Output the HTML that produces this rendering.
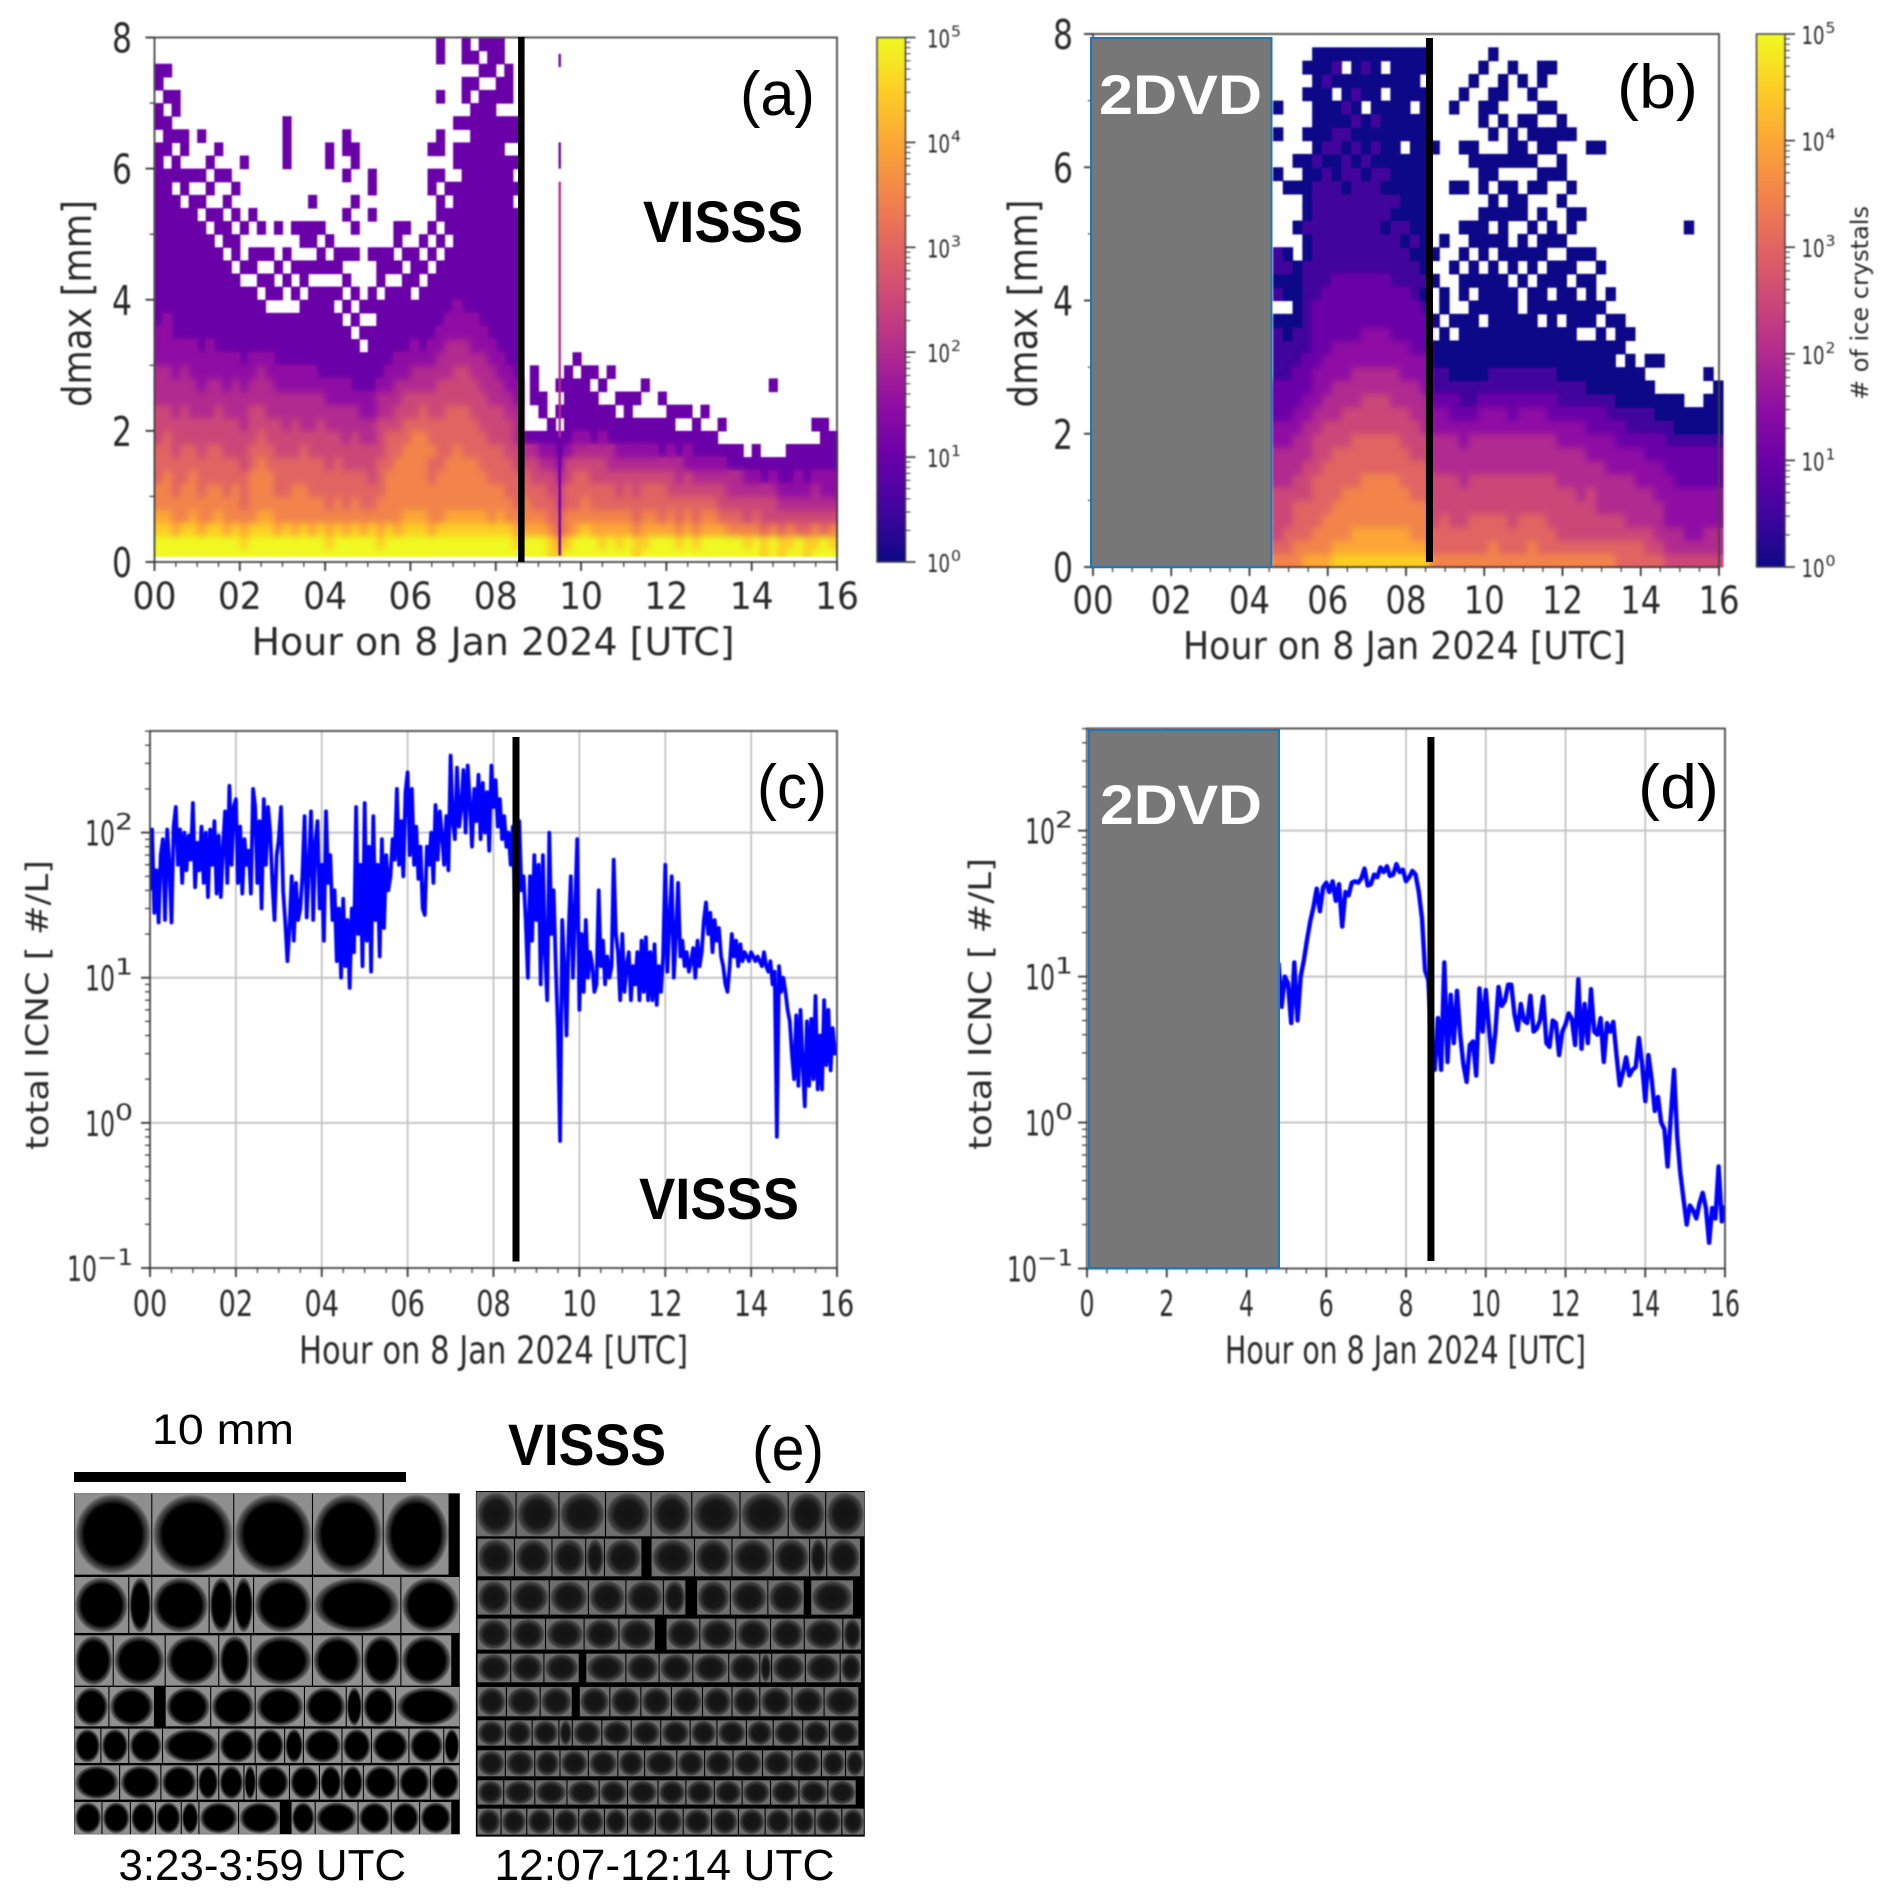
<!DOCTYPE html>
<html lang="en">
<head>
<meta charset="utf-8">
<title>VISSS and 2DVD comparison, 8 Jan 2024</title>
<style>
html,body{margin:0;padding:0;background:#fff;}
svg{display:block;position:absolute;left:0;top:0;}
.soft{filter:blur(0.7px);}
.axis-text{font-family:"DejaVu Sans","Liberation Sans",sans-serif;fill:#2a2a2a;}
.note{font-family:"Liberation Sans",sans-serif;}
</style>
</head>
<body>
<svg id="fig" xmlns="http://www.w3.org/2000/svg" width="1892" height="1901" viewBox="0 0 1892 1901">
<defs>
<linearGradient id="plasma-gradient" x1="0" y1="1" x2="0" y2="0">
<stop offset="0" stop-color="#0d0887"/><stop offset="0.1" stop-color="#41049d"/><stop offset="0.2" stop-color="#6a00a8"/><stop offset="0.3" stop-color="#8f0da4"/><stop offset="0.4" stop-color="#b12a90"/><stop offset="0.5" stop-color="#cc4778"/><stop offset="0.6" stop-color="#e16462"/><stop offset="0.7" stop-color="#f2844b"/><stop offset="0.8" stop-color="#fca636"/><stop offset="0.9" stop-color="#fcce25"/><stop offset="1" stop-color="#f0f921"/>
</linearGradient>
<radialGradient id="tile-left"><stop offset="0" stop-color="#000"/><stop offset="0.74" stop-color="#000"/><stop offset="0.92" stop-color="#555"/><stop offset="1" stop-color="#8f8f8f"/></radialGradient>
<radialGradient id="tile-right"><stop offset="0" stop-color="#121212"/><stop offset="0.6" stop-color="#181818"/><stop offset="0.88" stop-color="#444"/><stop offset="1" stop-color="#6e6e6e"/></radialGradient>
<clipPath id="clip-a"><rect x="154.5" y="37.5" width="682.5" height="518.5"/></clipPath>
<clipPath id="clip-b"><rect x="1093" y="34" width="626" height="533"/></clipPath>
<clipPath id="clip-c"><rect x="150" y="731" width="687" height="537"/></clipPath>
<clipPath id="clip-d"><rect x="1087" y="728" width="638" height="541"/></clipPath>
</defs>
</svg>
<script>
/* ---------- chart data ---------- */
const colorLevels = ["#0d0887","#41049d","#6a00a8","#8f0da4","#b12a90","#cc4778","#e16462","#f2844b","#fca636","#fcce25","#f0f921"];
const hourTicksZero = ["00","02","04","06","08","10","12","14","16"];
const hourTicksPlain = ["0","2","4","6","8","10","12","14","16"];
const dmaxTicks = [0,2,4,6,8];
const icncDecades = [-1,0,1,2];
const colorbarDecades = [0,1,2,3,4,5];
const eventHour = 8.6;

/* Panel a: one list per time bin (0.2 h), bottom to top per 0.2 mm. 0 = empty; level n means count 10^((n-1)/2). */
const vissBinHours = 0.2;
const vissBinMm = 0.2;
const vissLevels = [
[11,11,10,9,8,8,7,7,7,6,6,6,5,5,5,4,4,4,3,3,3,3,3,3,3,3,3,3,3,3,3,3,0,3,3,0,3,3],
[11,11,10,9,8,8,8,7,7,7,6,6,5,5,5,4,4,4,4,3,3,3,3,3,3,3,3,3,3,3,0,3,3,3,0,3,0,3],
[11,11,9,8,8,7,7,7,6,6,6,5,5,5,4,4,4,3,3,3,3,3,3,3,3,3,3,3,0,3,3,0,3,0,3,3],
[11,11,10,8,8,8,7,7,7,6,6,6,5,5,5,4,4,3,3,3,3,3,3,3,3,3,3,0,3,3,0,3,3],
[11,11,10,9,8,8,8,7,7,6,6,5,5,5,4,4,4,3,3,3,3,3,3,3,3,3,3,3,0,3],
[11,11,9,8,8,7,7,7,6,6,6,5,5,4,4,4,3,3,3,3,3,3,3,3,3,3,0,3,0,3,0,0,3],
[11,11,10,8,8,8,7,7,7,6,6,5,5,5,4,4,4,3,3,3,3,3,3,3,3,0,3,0,3,0,3],
[11,11,10,9,8,8,7,7,7,6,6,6,5,5,4,4,3,3,3,3,3,3,3,3,0,3,3,0,0,3,0,3],
[11,11,9,8,8,7,7,7,6,6,6,5,5,4,4,4,3,3,3,3,3,3,3,0,3,3,0,3,0,3],
[11,11,10,8,8,8,7,7,6,6,6,5,5,5,4,4,3,3,3,3,3,3,0,3,3,0,3,0,3],
[11,10,9,8,7,7,7,6,6,6,5,5,5,4,4,3,3,3,3,3,3,0,3,0,0,3,0,0,0,0,3],
[11,11,10,8,8,8,8,7,7,6,6,6,5,5,4,4,3,3,3,3,3,0,3,3,0,0,3],
[11,11,10,9,8,8,8,8,7,7,6,6,5,5,5,4,3,3,3,3,0,3,0,3,0,3],
[11,11,10,9,8,8,8,7,7,6,6,5,5,5,4,4,3,3,3,0,3,3,0,3,0],
[11,11,9,8,8,7,7,7,6,6,6,5,5,4,4,3,3,3,3,0,3,0,3,0,0,3],
[11,11,10,8,8,7,7,7,6,6,5,5,5,4,4,3,3,3,3,0,0,3,0,3,0,0,0,0,0,0,3,3,3,3],
[11,11,9,8,8,8,7,7,6,6,6,5,5,4,4,3,3,3,3,0,3,0,3,0,0,3],
[11,11,10,8,8,8,7,7,7,6,5,5,5,4,4,3,3,3,3,3,0,3,3,0,3,3],
[11,11,9,8,8,7,7,7,6,6,5,5,5,4,4,3,3,3,3,3,3,0,3,0,3,3,0,3],
[11,11,10,8,8,7,7,7,6,6,6,5,5,4,3,3,3,3,3,3,3,0,3,3,0,3],
[11,10,9,8,7,7,7,6,6,6,5,5,4,4,3,3,3,3,3,3,3,0,3,0,3,0,0,0,0,0,3,3],
[11,11,10,8,8,7,7,7,6,6,5,5,4,4,3,3,3,3,3,0,3,0,3,3,0],
[11,11,9,8,7,7,7,6,6,5,5,5,4,4,3,3,3,3,0,3,0,3,0,3,0,0,3,0,0,3,0,3,3],
[11,11,10,8,8,7,7,6,6,6,5,5,4,3,3,3,3,0,3,0,3,0,0,3,0,3,0,3,0,0,3,3],
[11,11,9,8,7,7,7,6,6,5,5,4,4,3,3,3,0,3,0,3,0],
[11,11,10,8,7,7,6,6,6,5,5,4,4,3,3,3,3,3,0,3,3,0,0,3,0,0,3,0,3,3],
[11,10,9,8,8,7,7,7,6,6,6,5,5,4,3,3,3,3,3,3,0,3,3,3,0],
[11,11,10,8,8,8,8,7,7,7,6,5,5,4,4,3,3,3,3,3,3,0,3,3],
[11,11,9,8,8,8,8,8,7,7,6,6,5,5,4,4,3,3,3,3,3,0,3,0,3,3],
[11,11,10,9,8,8,8,8,8,7,7,6,6,5,4,4,3,3,3,3,3,3,0,3,0,3],
[11,11,10,9,8,8,8,8,8,8,7,6,6,5,5,4,4,3,3,3,0,3,3,3],
[11,11,10,9,8,8,8,8,8,8,7,7,6,5,5,4,3,3,3,3,3,0,3,0,3],
[11,11,9,8,8,8,7,7,8,7,7,6,6,5,5,4,4,3,3,3,3,3,0,3,0,3,0,0,3,3,0,3],
[11,11,10,8,8,8,8,7,7,7,7,6,6,6,5,5,4,4,3,3,3,3,3,0,3,0,3,3,0,3,0,3,3,0,0,3,0,0,3,3],
[11,11,10,9,8,8,8,8,7,7,7,7,6,6,5,5,5,4,4,3,3,3,3,3,0,3,3,0,3],
[11,11,10,9,8,8,8,8,8,7,7,7,6,6,6,5,5,4,4,4,3,3,3,3,3,3,3,3,3,0,3,3,0,3],
[11,11,10,9,8,8,8,8,7,7,7,7,6,6,6,5,5,4,4,3,3,3,3,3,3,3,3,3,3,3,3,3,0,3,0,3,3,0,3,3],
[11,11,10,9,8,8,8,8,7,7,7,6,6,6,5,5,4,4,4,3,3,3,3,3,3,3,3,3,3,3,3,3,3,3,3,0,3,0,3],
[11,11,10,9,8,8,8,7,7,7,6,6,6,5,5,5,4,4,3,3,3,3,3,3,3,3,3,3,3,3,3,3,3,3,3,3,0,3,0,3],
[11,11,10,8,8,8,7,7,7,6,6,6,5,5,5,4,4,3,3,3,3,3,3,3,3,3,3,3,3,3,3,3,3,3,3,3,0,3,3,3],
[11,11,10,9,8,8,7,7,7,6,6,6,5,5,4,4,3,3,3,3,3,3,3,3,3,3,3,3,3,3,3,3,3,3,0,3,3,0,3,3],
[11,11,10,8,8,7,7,7,6,6,6,5,5,4,4,3,3,3,3,3,3,3,3,3,3,3,3,3,3,3,3,0,3,3,0,3,3,3],
[11,10,9,8,7,7,7,6,6,5,5,5,4,4,3,3,3,3,3,3,3,3,3,3,3,3,3,0,3,0,3,0,3,3],
[11,11,9,8,8,7,7,6,5,3],
[11,11,9,8,7,7,6,6,5,3,0,0,3,3,3],
[11,11,9,8,7,7,6,5,4,3,0,3,3],
[10,10,8,7,7,6,6,5,4,3,3],
[10,9,7,7,6,6,5,4,3,3,0,3,0,3],
[11,10,8,8,7,7,6,6,4,3,3,3,3,3,3],
[11,11,9,8,7,7,7,6,5,4,3,3,3,3,0,3],
[11,11,10,8,8,7,7,6,5,4,3,3,3,3,3],
[11,11,9,8,7,7,6,6,5,3,3,3,3,0,3],
[11,10,9,8,7,7,6,6,5,4,3,3,0,3],
[11,11,9,8,7,7,6,5,5,3,3,3,0,0,3],
[11,10,9,8,7,6,6,5,4,3,3,0,3],
[11,11,9,8,7,7,6,5,4,3,3,3,3],
[10,10,8,7,7,6,6,5,4,3,3,0,3],
[11,10,9,8,7,7,6,5,4,3,3,0,0,3],
[11,11,9,8,7,7,6,5,4,3,3],
[11,11,9,7,7,7,6,5,3,3,3,0,3],
[11,11,9,8,7,6,6,5,4,3,3,3],
[11,10,8,7,7,6,5,5,3,3,0,3],
[11,11,9,8,7,6,6,4,4,3,0,3],
[11,10,8,7,7,6,5,4,3,3,3],
[11,11,9,8,7,6,5,4,3,3,0,3],
[11,11,9,8,7,6,5,4,3,3],
[11,11,9,7,6,6,5,4,3,0,3],
[11,11,8,7,6,5,5,3,3],
[11,11,8,7,6,5,5,3,3],
[11,10,8,6,6,5,4,3,0],
[11,11,8,7,6,5,4,3,3],
[10,10,7,6,6,5,3,3,0],
[11,11,8,6,6,5,4,3,0,0,0,0,0,3],
[10,10,7,6,5,4,3,3],
[11,10,8,6,5,4,3,3,3],
[11,11,7,6,5,4,4,3,3],
[10,10,7,6,5,4,3,3,3],
[11,10,8,6,5,5,4,3,3,0,3],
[11,11,7,6,5,4,4,3,3,3,3],
[11,10,8,6,5,4,4,3,3,3,0]
];
/* Narrow isolated burst in panel a: lower dmax, upper dmax, level */
const burstHour = 9.5;
const burstLow = [0.1,1.9,6.0,7.55];
const burstHigh = [1.9,5.8,6.4,7.75];
const burstLevel = [3,5,3,3];

/* Panel b: one list per 0.25 h bin starting at 4.6 h, bottom to top per 0.2 mm. */
const dvdStartHour = 4.6;
const dvdBinHours = 0.25;
const dvdBinMm = 0.2;
const dvdLevels = [
[8,7,6,6,6,6,5,5,5,4,4,3,3,3,2,2,2,2,1,0,2,1,2,2,0,0,0,0,0,1,0,0,1,0,1],
[8,7,7,6,6,6,5,5,5,4,4,3,3,3,2,2,2,1,1,0,1,1,2,1,0,0,0,0,1],
[8,8,7,7,7,6,6,5,5,5,4,4,3,3,3,2,2,2,1,1,1,1,1,0,0,1,0,0,1,0,1],
[9,8,7,7,7,6,6,6,5,5,5,4,4,3,3,3,2,2,2,2,2,2,2,1,1,2,1,1,1,1,1,0,1,0,0,1,0,1],
[9,8,8,7,7,7,7,6,6,6,5,5,4,4,4,3,3,3,3,3,2,2,2,2,2,2,2,2,2,1,2,1,1,1,1,1,1,1,1],
[9,8,8,8,7,7,7,7,6,6,6,5,5,4,4,4,3,3,3,3,3,2,2,2,2,2,2,2,2,2,1,2,1,1,1,1,2,1,1],
[10,9,8,8,8,7,7,7,7,6,6,5,5,5,4,4,4,3,3,3,3,3,2,2,2,2,2,2,2,1,1,2,2,1,1,0,1,2,1],
[10,9,8,8,8,8,7,7,7,6,6,6,5,5,4,4,4,3,3,3,3,3,2,2,2,2,2,2,1,2,2,1,2,1,2,1,1,0,1],
[10,9,9,8,8,8,7,7,7,7,6,6,5,5,5,4,4,3,3,3,3,3,2,2,2,2,2,2,2,2,1,2,1,2,1,2,1,1,1],
[10,9,9,8,8,8,8,7,7,7,6,6,6,5,5,4,4,4,3,3,3,3,2,2,2,2,2,2,2,1,2,1,1,1,0,1,1,2,1],
[10,9,9,8,8,8,8,7,7,7,6,6,6,5,5,4,4,4,3,3,3,3,2,2,2,2,2,2,2,2,1,2,1,2,1,1,1,1,1],
[10,9,9,8,8,8,8,7,7,7,6,6,6,5,5,4,4,4,3,3,3,3,2,2,2,1,2,2,1,2,1,1,1,1,1,0,1,0,1],
[10,9,9,8,8,8,8,7,7,7,6,6,5,5,5,4,4,3,3,3,3,2,2,2,2,2,1,2,1,1,1,1,1,1,1,1,1,1,1],
[10,9,9,8,8,8,7,7,7,6,6,6,5,5,4,4,4,3,3,3,3,2,2,2,1,2,1,1,1,1,1,0,1,1,1,1,1,1,1],
[10,9,8,8,8,7,7,7,6,6,6,5,5,5,4,4,3,3,3,3,2,2,2,1,2,1,1,1,1,1,1,1,1,1,0,1,1,1,1],
[10,9,8,8,8,7,7,7,6,6,5,5,5,4,4,4,3,3,3,2,1,2,1,1,1,1,1,1,1,1,1,1,1,1,1,1,0,1,1],
[8,7,7,6,6,6,6,5,5,5,4,4,3,2,2,1,1,0,1,0,0,1,0,1,0,0,0,0,0,0,0,1],
[8,7,7,7,6,6,6,5,5,5,4,4,3,2,2,1,1,1,0,1,1,0,0,0,1],
[8,7,7,6,6,6,6,5,5,5,4,3,3,2,1,1,1,0,1,0,0,0,1,0,0,0,0,0,1,0,0,0,0,0,1],
[8,7,7,6,6,6,5,5,5,4,4,3,2,2,1,1,1,1,1,0,1,1,0,1,0,1,0,0,1,0,0,1,0,0,0,1],
[8,7,7,7,6,6,6,5,5,5,4,3,2,2,1,1,1,1,1,1,0,1,1,0,1,1,0,0,0,0,1,1,0,0,0,0,1],
[8,7,7,7,6,6,6,5,5,5,4,4,3,2,1,1,1,1,0,1,1,1,0,1,1,1,1,0,1,1,1,0,0,1,1,0,0,1],
[8,8,7,7,6,6,6,5,5,5,4,4,3,2,2,1,1,1,1,1,1,1,1,0,1,0,1,1,0,1,1,0,1,0,1,1,0,0,1],
[8,7,7,7,6,6,6,5,5,5,4,4,3,2,2,1,1,1,1,1,1,1,0,1,1,1,1,0,1,0,1,0,0,1,0,1,1,0,0],
[8,7,7,6,6,6,6,5,5,5,4,3,3,2,2,1,1,1,1,1,1,0,1,1,0,0,1,1,1,0,1,1,1,0,0,0,0,1],
[8,7,7,7,6,6,6,5,5,5,4,4,3,2,2,1,1,1,1,0,0,1,0,1,1,0,1,1,0,0,1,1,0,1,0,0,1],
[8,8,7,7,6,6,6,5,5,5,4,4,3,2,2,1,1,1,1,1,1,0,1,1,0,1,0,0,1,0,1,0,1,1,0,1],
[8,7,7,7,6,6,6,5,5,5,4,4,3,2,2,1,1,1,0,1,1,1,0,1,1,0,1,0,1,1,0,1,1,0,1,0,1,1],
[8,7,7,6,6,6,6,5,5,5,4,3,3,2,2,1,1,1,1,1,0,1,1,0,1,1,0,0,0,1,0,1,1,0,1,0,0,1],
[8,7,6,6,6,6,5,5,5,4,4,3,2,2,1,1,1,1,0,1,1,1,1,0,1,0,0,1,0,1,1,0,1,1],
[8,7,6,6,6,6,5,5,5,4,4,3,2,2,1,1,1,1,1,1,1,0,1,1,0,1,1,0,1,0,0,0,1],
[8,7,6,6,6,5,5,5,5,4,4,3,2,2,1,1,1,0,1,1,0,1,0,1,0,0,1],
[8,7,6,6,6,6,5,5,4,4,3,3,2,1,1,1,1,0,1,1,1,1,0,1,0,0,0,0,0,0,0,1],
[8,7,6,6,5,5,5,5,4,4,3,3,2,1,1,1,1,1,0,1,0,0,1,0,0,0,0,0,0,0,0,1],
[8,7,6,6,5,5,5,4,4,4,3,2,2,1,1,1,1,0,1,0,1],
[7,7,6,6,5,5,5,4,4,3,3,2,1,1,1,0,1,1,1],
[7,7,6,5,5,5,5,4,4,3,2,2,1,1,1,1,0,1],
[7,7,6,5,5,5,4,4,4,3,2,2,1,1,1,0],
[7,6,6,5,5,5,4,4,3,3,2,2,1,1,0,1],
[7,6,5,5,5,4,4,4,3,3,2,1,1,0,0,1],
[6,5,5,4,4,4,4,3,3,2,2,1,1],
[6,5,5,4,4,4,3,3,3,2,1,1,1],
[6,5,4,4,4,4,3,3,3,2,1,1,0,0,0,0,0,0,0,0,0,0,0,0,0,1],
[6,5,4,4,4,4,3,3,3,2,1,1],
[6,5,5,4,4,4,3,3,3,2,1,1,1,0,1],
[6,5,5,4,4,4,3,3,3,2,1,1,1,1]
];

/* Panel c: ICNC [#/L] every 0.05 h from 0 h */
const vissStepHours = 0.05;
const vissIcnc = [
40,105,28,55,24,70,90,25,105,60,24,110,150,60,105,45,100,55,95,65,
160,42,85,55,110,45,100,36,105,60,120,38,95,36,80,140,45,210,60,150,
170,45,110,38,90,60,75,38,200,150,45,120,30,170,60,150,100,45,25,70,
90,150,40,24,13,22,50,18,45,25,30,50,130,26,60,140,25,85,120,30,
60,18,140,45,70,25,40,13,30,10,35,12,25,8.5,30,15,150,20,60,12,
160,18,80,11,130,25,60,14,90,22,70,40,50,90,65,200,60,120,50,190,
260,70,200,60,110,48,80,30,27,80,60,100,45,155,65,140,95,60,130,55,
340,120,90,280,110,150,270,100,290,160,80,200,120,250,90,220,100,190,75,290,
150,230,110,170,90,130,80,100,60,110,35,25,120,40,50,25,10,50,18,70,
25,60,9,70,15,7,100,20,40,12,4.5,0.75,25,12,4,20,50,10,30,90,
6,20,8,25,10,15,12,8,9,40,12,18,9,14,10,12,65,20,15,7,
20,8,12,15,7,12,9,15,7,18,8,19,7,15,7,17,6.5,12,8,14,
60,11,25,50,10,20,45,14,18,12,15,11,13,16,10,18,12,15,25,33,
20,28,15,25,18,22,14,12,9,8,12,20,14,18,12,17,13,15,14,13,
15,14,13,14,13,12,15,12,11,13,9,11,0.8,12,8,10,8,6,5,3,
2,5.5,1.8,6,2.5,1.3,5,1.8,5.2,2,7.5,1.7,4,1.7,7,2.5,6,2.3,4.5,3,
3.2
];

/* Panel d: ICNC [#/L] every 0.08 h from 4.8 h */
const dvdLineStart = 4.8;
const dvdStepHours = 0.08;
const dvdIcnc = [
12.5,6.2,10,9,4.8,12.5,5,10,13,18,24,30,40,28,41,44,38,45,33,43,22,38,36,44,45,44,47,55,42,43,
50,48,56,52,57,49,50,59,52,54,45,48,53,50,38,25,11,9.5,3.8,2.3,5.2,2.3,12.5,2.6,7.5,3.5,8,4,2.5,1.9,
3.4,3.6,2.1,8.3,4.2,8.1,4.5,2.6,4.1,8.5,6.3,6.8,8.8,8.8,5.5,4.3,6.5,5,4.8,7.4,4.2,4.4,5,7.3,3.5,3.3,5,4.8,2.9,4.2,
4.7,5.6,5.1,3.4,9.6,3.2,6.5,3.5,8.2,4.2,4,5.2,2.6,4.8,4.2,4.9,2.9,1.8,2.2,2.8,2.1,2.3,2.4,3.8,2.5,1.4,2.9,2,1.2,1.5,
1,0.9,0.5,1.1,2.3,0.8,0.45,0.3,0.2,0.27,0.25,0.22,0.28,0.33,0.26,0.15,0.26,0.22,0.5,0.21,0.27
];

/* Panel e mosaic tile edges (tile rows: top, bottom, column edges) */
const mosaicLeftRows = [
[310,555,[45,190,343,490,622,745,765]],
[560,730,[45,147,190,297,343,380,490,655,765]],
[735,888,[45,118,215,315,375,490,583,655,750,765]],
[890,1010,[45,110,195,215,300,383,475,553,583,645,765]],
[1015,1120,[45,95,147,210,315,383,438,473,545,600,670,735,765]],
[1125,1230,[45,130,207,275,315,362,385,447,503,545,585,650,710,765]],
[1235,1333,[45,97,150,197,245,278,352,430,450,495,575,637,690,750,765]]
];
const mosaicRightRows = [
[305,440,[795,870,950,1037,1122,1198,1288,1378,1448,1521]],
[445,560,[797,867,937,1000,1035,1105,1122,1203,1273,1350,1418,1450,1513]],
[570,675,[797,860,932,1005,1075,1145,1187,1207,1270,1340,1408,1420,1500]],
[685,780,[797,860,925,997,1062,1130,1150,1213,1280,1345,1408,1480,1515]],
[790,878,[797,860,922,988,1000,1075,1137,1200,1267,1325,1347,1410,1475,1515]],
[890,980,[797,852,915,975,988,1045,1103,1160,1218,1273,1325,1385,1445,1510]],
[990,1068,[797,850,900,950,975,1030,1085,1140,1195,1245,1300,1350,1405,1455,1510]],
[1080,1160,[797,850,905,952,1005,1060,1110,1170,1222,1275,1330,1385,1440,1485,1520]],
[1170,1245,[797,847,905,965,1025,1078,1135,1187,1240,1292,1345,1398,1452,1505]],
[1255,1335,[797,842,890,940,987,1035,1078,1130,1182,1235,1285,1335,1385,1428,1478,1520]]
];

/* ---------- drawing helpers ---------- */
const NS = "http://www.w3.org/2000/svg";
const fig = document.getElementById("fig");
function make(tag, attrs, parent){
  const e = document.createElementNS(NS, tag);
  for (const k in attrs) e.setAttribute(k, attrs[k]);
  (parent || fig).appendChild(e);
  return e;
}
function group(name, cls){
  const g = make("g", cls ? {class:cls} : {});
  
  
  return g;
}
function smoothLayer(parent, clipId, radius){
  const outer = make("g", {"clip-path":"url(#" + clipId + ")"}, parent);
  
  
  const inner = make("g", {style:"filter:blur(" + radius + "px)"}, outer);
  
  
  return inner;
}
function label(parent, name, str, x, y, size, opts){
  opts = opts || {};
  const a = {x:x, y:y, "font-size":size, "class":opts.cls || "axis-text"};
  if (opts.anchor) a["text-anchor"] = opts.anchor;
  if (opts.len) { a.textLength = opts.len; a.lengthAdjust = "spacingAndGlyphs"; }
  if (opts.rotate) a.transform = "rotate(-90 " + x + " " + y + ")";
  if (opts.weight) a["font-weight"] = opts.weight;
  if (opts.fill) a.fill = opts.fill;
  const t = make("text", a, parent);
  t.textContent = str;
  
  
  return t;
}
function linear(d0, d1, r0, r1){ return v => r0 + (v - d0) * (r1 - r0) / (d1 - d0); }
function logScale(d0, d1, r0, r1){ return v => r0 + (Math.log10(v) - d0) * (r1 - r0) / (d1 - d0); }
function levelColor(level){ return colorLevels[Math.min(level, colorLevels.length) - 1]; }
function tick(parent, name, x1, y1, x2, y2, w){
  const l = make("line", {x1:x1, y1:y1, x2:x2, y2:y2, stroke:"#333", "stroke-width":w}, parent);
  
  
}
function frame(parent, name, l, t, r, b){
  const f = make("rect", {x:l, y:t, width:r-l, height:b-t, fill:"none", stroke:"#444", "stroke-width":1.8}, parent);
  
  
}
function eventLine(x, y0, y1, w, name){
  const l = make("rect", {x:x-w/2, y:y0, width:w, height:y1-y0, fill:"#000"});
  
  
}
function xAxis(g, xs, b, labels, values, size, len, base){
  values.forEach((h, i) => {
    tick(g, "x-tick", xs(h), b, xs(h), b + 9, 1.8);
    const w = len * labels[i].length / 2;
    label(g, "x-tick-label", labels[i], xs(h), base, size, {anchor:"middle", len:w});
  });
  for (let m = 0; m <= 16; m += 0.5) tick(g, "x-minor-tick", xs(m), b, xs(m), b + 5, 1.2);
}
function logYAxis(g, ys, l, right, tops){
  for (let d = -1; d < 3; d++) for (let k = 2; k < 10; k++) {
    const v = k * Math.pow(10, d);
    if (ys(v) > tops) tick(g, "y-minor-tick", l - 5, ys(v), l, ys(v), 1.2);
  }
  icncDecades.forEach(d => {
    const y = ys(Math.pow(10, d));
    tick(g, "y-tick", l - 9, y, l, y, 1.8);
    const sup = d < 0 ? "\u22121" : String(d);
    const supW = d < 0 ? 36 : 18;
    label(g, "y-tick-exponent", sup, right - supW, y - 3, 22, {len:supW});
    label(g, "y-tick-label", "10", right - supW - 30, y + 13, 35, {len:30});
  });
}
function linearYAxis(g, ys, l, right){
  for (let m = 0; m <= 8; m++) tick(g, "y-minor-tick", l - 5, ys(m), l, ys(m), 1.2);
  dmaxTicks.forEach(v => {
    tick(g, "y-tick", l - 9, ys(v), l, ys(v), 1.8);
    label(g, "y-tick-label", String(v), right - 20, ys(v) + 15, 41, {len:20});
  });
}
function colorbar(name, x0, x1, t, b, textX){
  const g = group(name, "soft");
  const r = make("rect", {x:x0, y:t, width:x1-x0, height:b-t, fill:"url(#plasma-gradient)", stroke:"#444", "stroke-width":1.5}, g);
  
  
  const ys = logScale(0, 5, b, t);
  for (let d = 0; d < 5; d++) for (let k = 2; k < 10; k++) tick(g, "colorbar-minor-tick", x1, ys(k*Math.pow(10,d)), x1+5, ys(k*Math.pow(10,d)), 1);
  colorbarDecades.forEach(d => {
    const y = ys(Math.pow(10, d));
    tick(g, "colorbar-tick", x1, y, x1 + 10, y, 1.6);
    label(g, "colorbar-tick-label", "10", textX, y + 10, 25, {len:23});
    label(g, "colorbar-tick-exponent", String(d), textX + 24, y - 1, 15, {len:10});
  });
  return g;
}

/* ---------- panel a ---------- */
(function(){
  const L=154.5,R=837,T=37.5,B=562;
  const g = group("panel-a-chart","soft");
  const smooth = group("panel-a-smooth-region");
  const xs = linear(0,16,L,R), ys = linear(0,8,B,T);
  const cw = xs(vissBinHours)-xs(0), minDmax = 0.09;
  vissLevels.forEach((col,i) => col.forEach((lev,k) => {
    if (!lev) return;
    const lo = Math.max(k*vissBinMm, minDmax), hi = (k+1)*vissBinMm;
    const c = make("rect",{x:xs(i*vissBinHours),y:ys(hi),width:cw+0.6,height:ys(lo)-ys(hi)+0.6,fill:levelColor(lev)},g);
    
    
  }));
  const layer = smoothLayer(smooth,"clip-a",3.5);
  vissLevels.forEach((col,i) => col.forEach((lev,k) => {
    if (lev < 4) return;
    const lo = Math.max(k*vissBinMm, minDmax), hi = (k+1)*vissBinMm;
    const c = make("rect",{x:xs(i*vissBinHours),y:ys(hi),width:cw+0.6,height:ys(lo)-ys(hi)+0.6,fill:levelColor(lev)},layer);
    
    
  }));
  const axes = group("panel-a-axes","soft");
  burstLow.forEach((lo,i) => {
    const c = make("rect",{x:xs(burstHour)-1.2,y:ys(burstHigh[i]),width:2.4,height:ys(lo)-ys(burstHigh[i]),fill:levelColor(burstLevel[i])},axes);
    
    
  });
  frame(axes,"panel-a-frame",L,T,R,B);
  xAxis(axes,xs,B,hourTicksZero,[0,2,4,6,8,10,12,14,16],37,44,609);
  linearYAxis(axes,ys,L,132);
  label(axes,"x-axis-title","Hour on 8 Jan 2024 [UTC]",251.5,655,38,{len:483});
  label(axes,"y-axis-title","dmax [mm]",91,407,40,{len:207,rotate:true});
  colorbar("panel-a-colorbar",877,905.5,T,B,927);
  eventLine(xs(eventHour),37,562,6.5,"event-line-a");
  const n = group("panel-a-annotations");
  label(n,"panel-label-a","(a)",740,115,62,{cls:"note",len:75});
  label(n,"instrument-label-viss","VISSS",643,242,58,{cls:"note",weight:"bold",len:160});
})();

/* ---------- panel b ---------- */
(function(){
  const L=1093,R=1719,T=34,B=567;
  const g = group("panel-b-chart","soft");
  const smooth = group("panel-b-smooth-region");
  const xs = linear(0,16,L,R), ys = linear(0,8,B,T);
  const cw = xs(dvdBinHours)-xs(0);
  dvdLevels.forEach((col,i) => col.forEach((lev,k) => {
    if (!lev) return;
    const hi = (k+1)*dvdBinMm, lo = k*dvdBinMm;
    const c = make("rect",{x:xs(dvdStartHour+i*dvdBinHours),y:ys(hi),width:cw+0.6,height:ys(lo)-ys(hi)+0.6,fill:levelColor(lev)},g);
    
    
  }));
  const layer = smoothLayer(smooth,"clip-b",3.5);
  dvdLevels.forEach((col,i) => col.forEach((lev,k) => {
    if (lev < 3) return;
    const hi = (k+1)*dvdBinMm, lo = k*dvdBinMm;
    const c = make("rect",{x:xs(dvdStartHour+i*dvdBinHours),y:ys(hi),width:cw+0.6,height:ys(lo)-ys(hi)+0.6,fill:levelColor(lev)},layer);
    
    
  }));
  const axes = group("panel-b-axes","soft");
  frame(axes,"panel-b-frame",L,T,R,B);
  xAxis(axes,xs,B,hourTicksZero,[0,2,4,6,8,10,12,14,16],38,41,613.5);
  linearYAxis(axes,ys,L,1073);
  label(axes,"x-axis-title","Hour on 8 Jan 2024 [UTC]",1183,659,38,{len:443});
  label(axes,"y-axis-title","dmax [mm]",1037,407.5,40,{len:208,rotate:true});
  colorbar("panel-b-colorbar",1756.5,1785,T,B,1801.5);
  label(axes,"colorbar-title","# of ice crystals",1868,400,24,{len:194,rotate:true});
  const m = make("rect",{x:1091,y:38,width:180.5,height:529,fill:"#777",stroke:"#1f77b4","stroke-width":2});
  
  
  eventLine(xs(eventHour),38,562,7,"event-line-b");
  const n = group("panel-b-annotations");
  label(n,"instrument-label-2dvd","2DVD",1099,114,56,{cls:"note",weight:"bold",len:163,fill:"#fff"});
  label(n,"panel-label-b","(b)",1617,108,62,{cls:"note",len:81});
})();

/* ---------- panel c ---------- */
(function(){
  const L=150,R=837,T=731,B=1268;
  const g = group("panel-c-chart","soft");
  const xs = linear(0,16,L,R), ys = logScale(-1,2.7,B,T);
  const gridHours = [2,4,6,8,10,12,14];
  gridHours.forEach(h => {
    const l = make("line",{x1:xs(h),x2:xs(h),y1:T,y2:B,stroke:"#bcbcbc","stroke-width":1.6},g);
    
    
  });
  icncDecades.slice(1).forEach(d => {
    const y = ys(Math.pow(10,d));
    const l = make("line",{x1:L,x2:R,y1:y,y2:y,stroke:"#c4c4c4","stroke-width":2},g);
    
    
  });
  const pts = vissIcnc.map((v,i) => xs(i*vissStepHours).toFixed(1)+","+ys(v).toFixed(1)).join(" ");
  const p = make("polyline",{points:pts,fill:"none",stroke:"#0000ff","stroke-width":3.8,"stroke-linejoin":"round","clip-path":"url(#clip-c)"},g);
  
  
  frame(g,"panel-c-frame",L,T,R,B);
  xAxis(g,xs,B,hourTicksZero,[0,2,4,6,8,10,12,14,16],36,34.5,1316);
  logYAxis(g,ys,L,133,T);
  label(g,"x-axis-title","Hour on 8 Jan 2024 [UTC]",299,1363.5,38,{len:389});
  label(g,"y-axis-title","total ICNC [ #/L]",48,1150,31,{len:290,rotate:true});
  eventLine(516,737,1261.5,7,"event-line-c");
  const n = group("panel-c-annotations");
  label(n,"panel-label-c","(c)",757,808,62,{cls:"note",len:70});
  label(n,"instrument-label-viss","VISSS",639,1219,58,{cls:"note",weight:"bold",len:160});
})();

/* ---------- panel d ---------- */
(function(){
  const L=1087,R=1725,T=728.5,B=1268.5;
  const g = group("panel-d-chart","soft");
  const xs = linear(0,16,L,R), ys = logScale(-1,2.7,B,T);
  [2,4,6,8,10,12,14].forEach(h => {
    const l = make("line",{x1:xs(h),x2:xs(h),y1:T,y2:B,stroke:"#bcbcbc","stroke-width":1.6},g);
    
    
  });
  icncDecades.slice(1).forEach(d => {
    const y = ys(Math.pow(10,d));
    const l = make("line",{x1:L,x2:R,y1:y,y2:y,stroke:"#c4c4c4","stroke-width":2},g);
    
    
  });
  const pts = dvdIcnc.map((v,i) => xs(dvdLineStart+i*dvdStepHours).toFixed(1)+","+ys(v).toFixed(1)).join(" ");
  const p = make("polyline",{points:pts,fill:"none",stroke:"#0000ff","stroke-width":4.4,"stroke-linejoin":"round","clip-path":"url(#clip-d)"},g);
  
  
  frame(g,"panel-d-frame",L,T,R,B);
  xAxis(g,xs,B,hourTicksPlain,[0,2,4,6,8,10,12,14,16],36,30,1316);
  logYAxis(g,ys,L,1073,T);
  label(g,"x-axis-title","Hour on 8 Jan 2024 [UTC]",1225,1363.5,38,{len:361});
  label(g,"y-axis-title","total ICNC [ #/L]",991,1150,31,{len:292,rotate:true});
  const m = make("rect",{x:1089,y:730,width:190,height:538,fill:"#777",stroke:"#1f77b4","stroke-width":2});
  
  
  eventLine(xs(eventHour)+1,737,1261,7,"event-line-d");
  const n = group("panel-d-annotations");
  label(n,"instrument-label-2dvd","2DVD",1100,824,56,{cls:"note",weight:"bold",len:162,fill:"#fff"});
  label(n,"panel-label-d","(d)",1638,808,62,{cls:"note",len:81});
})();

/* ---------- panel e: particle mosaics ---------- */
(function(){
  const n = group("panel-e-annotations");
  label(n,"scale-bar-label","10 mm",152,1444,43,{cls:"note",len:142});
  const bar = make("rect",{x:74,y:1472,width:332,height:10,fill:"#000"},n);
  
  
  label(n,"instrument-label-viss","VISSS",508,1465,58,{cls:"note",weight:"bold",len:158});
  label(n,"panel-label-e","(e)",752,1470,62,{cls:"note",len:72});
  label(n,"mosaic-time-left","3:23-3:59 UTC",118.5,1880,44,{cls:"note",len:287.5});
  label(n,"mosaic-time-right","12:07-12:14 UTC",494.5,1880,44,{cls:"note",len:340});
  function mosaic(name, rows, x0, y0, x1, y1, fill){
    const g = make("g",{transform:"translate(50 1390) scale(0.5357 0.3333)"});
    
    
    const bg = make("rect",{x:x0,y:y0,width:x1-x0,height:y1-y0,fill:"#000"},g);
    
    
    rows.forEach(row => {
      const edges = row[2];
      for (let i = 0; i < edges.length - 1; i++) {
        const w = edges[i+1] - edges[i];
        if (w < 22) continue;
        const t = make("rect",{x:edges[i]+1,y:row[0]+1,width:w-2,height:row[1]-row[0]-2,fill:fill},g);
        
        
      }
    });
  }
  mosaic("mosaic-left",mosaicLeftRows,45,310,765,1333,"url(#tile-left)");
  mosaic("mosaic-right",mosaicRightRows,795,303,1521,1340,"url(#tile-right)");
})();
</script>
</body>
</html>
